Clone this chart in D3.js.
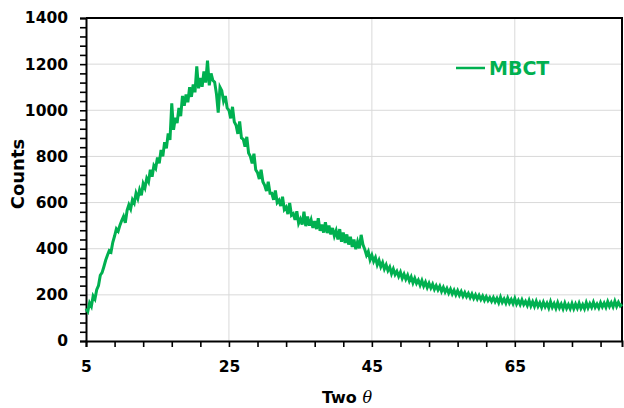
<!DOCTYPE html>
<html>
<head>
<meta charset="utf-8">
<script src="https://cdn.jsdelivr.net/npm/d3@7"></script>
<style>
  body { margin: 0; background: #fff; }
  text { font-family: "DejaVu Sans", sans-serif; font-weight: bold; }
</style>
</head>
<body>
<div id="my_dataviz"></div>
<script>
// scan: 2theta from 5 to 80 deg, step 0.25
var scanStart = 5;
var scanStep = 0.25;
// counts, 4 points per degree
var counts = [
  140, 128, 165, 150,   195, 182, 222, 240,   285, 296, 322, 350,   372, 392, 386, 428,
  455, 486, 476, 502,   522, 540, 512, 566,   590, 572, 612, 598,   640, 618, 655, 632,
  682, 664, 705, 690,   742, 712, 760, 748,   795, 770, 828, 800,   862, 835, 900, 872,
  1030, 915, 968, 945,  1010, 975, 1062, 1020, 1068, 1035, 1100, 1058, 1112, 1078, 1190, 1095,
  1140, 1102, 1168, 1120, 1215, 1108, 1160, 1130, 1122, 1072, 990, 1100, 1085, 1040, 1062, 1010,
  1000, 965, 1015, 950, 935, 898, 952, 880,   875, 842, 885, 815,   800, 770, 812, 742,
  730, 702, 742, 690,   675, 650, 690, 640,   640, 612, 652, 600,   610, 585, 625, 570,
  580, 550, 598, 545,   552, 525, 562, 510,   528, 505, 560, 498,   540, 500, 525, 490,
  520, 485, 532, 478,   505, 470, 515, 468,   500, 462, 490, 455,   478, 440, 485, 430,
  470, 425, 462, 418,   452, 408, 440, 398,   430, 402, 460, 418,   398, 372, 388, 352,
  372, 345, 362, 330,   350, 322, 340, 312,   330, 305, 320, 292,   312, 288, 302, 280,
  298, 272, 290, 268,   285, 260, 278, 252,   272, 250, 264, 242,   262, 238, 255, 232,
  250, 230, 246, 224,   240, 222, 238, 215,   232, 212, 228, 208,   225, 204, 220, 200,
  218, 198, 214, 194,   210, 192, 206, 188,   204, 185, 200, 182,   198, 180, 195, 176,
  192, 175, 188, 172,   188, 170, 185, 166,   190, 168, 182, 164,   186, 165, 180, 162,
  184, 160, 176, 158,   178, 158, 172, 154,   176, 152, 170, 150,   172, 150, 166, 146,
  168, 148, 164, 144,   170, 146, 162, 142,   166, 144, 160, 140,   164, 142, 158, 140,
  162, 140, 160, 142,   164, 142, 158, 140,   166, 144, 162, 146,   168, 146, 160, 144,
  166, 148, 164, 146,   170, 150, 166, 148,   172, 150, 168, 152,   160
];
var seriesName = "MBCT";
var xTickLabels = [5, 25, 45, 65];
var yTickLabels = [0, 200, 400, 600, 800, 1000, 1200, 1400];
var xDomain = [5, 80];
var yDomain = [0, 1400];

var dimensions = {height: 323, width: 536};
var margin = {top: 18, right: 2, bottom: 67, left: 86};
var green = "#00b050";

/**
 * Create the svg and the inner group
 */
function initializeSVG(margin, dimensions){
    var svg = d3.select("#my_dataviz")
        .append("svg")
        .attr("width", dimensions.width + margin.left + margin.right)
        .attr("height", dimensions.height + margin.top + margin.bottom)
        .append("g")
        .attr("transform", "translate(" + margin.left + "," + margin.top + ")");
    return svg;
}

/**
 * Gridlines, frame, axes with minor ticks
 */
function addAxes(svg, dimensions, x, y){
    // gridlines
    svg.append("g")
        .selectAll("line")
        .data(yTickLabels.slice(1))
        .enter().append("line")
        .attr("x1", 0).attr("x2", dimensions.width)
        .attr("y1", d => y(d)).attr("y2", d => y(d))
        .attr("stroke", "#d9d9d9").attr("stroke-width", 1);
    svg.append("g")
        .selectAll("line")
        .data(xTickLabels.slice(1))
        .enter().append("line")
        .attr("x1", d => x(d)).attr("x2", d => x(d))
        .attr("y1", 0).attr("y2", dimensions.height)
        .attr("stroke", "#d9d9d9").attr("stroke-width", 1);

    // frame (top and right)
    svg.append("path")
        .attr("d", "M0,0H" + dimensions.width + "V" + dimensions.height)
        .attr("fill", "none").attr("stroke", "#000").attr("stroke-width", 2);

    // minor ticks
    var xAxis = svg.append("g")
        .attr("transform", "translate(0," + dimensions.height + ")")
        .call(d3.axisBottom(x).tickValues(d3.range(5, 81, 4)).tickSize(6).tickFormat(""));
    var yAxis = svg.append("g")
        .call(d3.axisLeft(y).tickValues(d3.range(0, 1401, 40)).tickSize(6).tickFormat(""));
    [xAxis, yAxis].forEach(function(a){
        a.select(".domain").attr("stroke-width", 2);
        a.selectAll(".tick line").attr("stroke-width", 1.6);
    });

    // labels
    svg.append("g")
        .attr("transform", "translate(0," + dimensions.height + ")")
        .call(d3.axisBottom(x).tickValues(xTickLabels).tickSize(0).tickPadding(20).tickFormat(d3.format("d")))
        .call(g => g.select(".domain").remove())
        .selectAll("text")
        .attr("font-family", "DejaVu Sans").attr("font-weight", "bold")
        .attr("font-size", 15.5).attr("fill", "#000");
    svg.append("g")
        .call(d3.axisLeft(y).tickValues(yTickLabels).tickSize(0).tickPadding(18).tickFormat(d3.format("d")))
        .call(g => g.select(".domain").remove())
        .selectAll("text")
        .attr("font-family", "DejaVu Sans").attr("font-weight", "bold")
        .attr("font-size", 15.5).attr("fill", "#000");

    // titles
    var xt = svg.append("text")
        .attr("x", 261).attr("y", dimensions.height + 62)
        .attr("text-anchor", "middle")
        .attr("font-size", 16);
    xt.append("tspan").text("Two ");
    xt.append("tspan").text("\u03b8")
        .style("font-family", "'DejaVu Serif', serif")
        .style("font-style", "italic").style("font-weight", "normal");

    svg.append("text")
        .attr("transform", "translate(-62," + 156 + ") rotate(-90)")
        .attr("text-anchor", "middle")
        .attr("font-size", 18)
        .text("Counts");
}

/**
 * Draw the pattern and the legend
 */
function displayPattern(svg, x, y){
    var line = d3.line()
        .x(function(d, i) { return x(scanStart + i * scanStep); })
        .y(function(d) { return y(d); });

    svg.append("path")
        .datum(counts)
        .attr("fill", "none")
        .attr("stroke", green)
        .attr("stroke-width", 3)
        .attr("stroke-linejoin", "miter")
        .attr("d", line);

    var lg = svg.append("g").attr("transform", "translate(370,50)");
    lg.append("line")
        .attr("x1", 0).attr("x2", 29)
        .attr("stroke", green).attr("stroke-width", 2.5);
    lg.append("text")
        .attr("x", 33).attr("y", 7)
        .attr("font-size", 19)
        .attr("fill", green)
        .text(seriesName);
}

var svg = initializeSVG(margin, dimensions);
var x = d3.scaleLinear().domain(xDomain).range([0, dimensions.width]);
var y = d3.scaleLinear().domain(yDomain).range([dimensions.height, 0]);
addAxes(svg, dimensions, x, y);
displayPattern(svg, x, y);
</script>
</body>
</html>
